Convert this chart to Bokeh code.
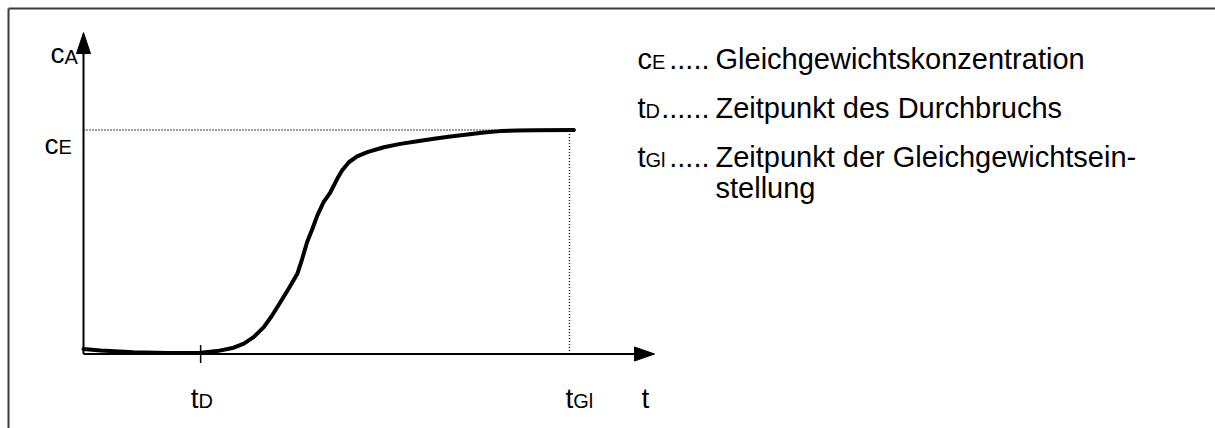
from bokeh.plotting import figure
from bokeh.models import Range1d
from bokeh.core.properties import value
from bokeh.embed import file_html
from bokeh.resources import INLINE

# Breakthrough curve: time (arbitrary units) vs. outlet concentration c_A / c_E
t_vals = [0.0, 0.35, 1.03, 1.73, 2.41, 2.75, 3.09, 3.30, 3.50, 3.71, 3.88,
          4.05, 4.22, 4.40, 4.50, 4.60, 4.71, 4.81, 4.94, 5.08, 5.22, 5.32,
          5.46, 5.63, 5.84, 6.18, 6.52, 6.87, 7.21, 7.55, 7.90, 8.24, 8.58,
          8.92, 9.27, 10.09]
c_vals = [0.022, 0.016, 0.008, 0.005, 0.006, 0.013, 0.028, 0.046, 0.075, 0.120,
          0.172, 0.231, 0.291, 0.358, 0.425, 0.499, 0.559, 0.618, 0.678, 0.722,
          0.782, 0.819, 0.856, 0.882, 0.901, 0.923, 0.938, 0.950, 0.961, 0.971,
          0.980, 0.989, 0.995, 0.998, 0.999, 1.0]

t_D = 2.41      # breakthrough time
t_Gl = 10.0     # time equilibrium is reached
c_E = 1.0       # equilibrium concentration
t_axis_end = 11.75
c_axis_end = 1.435

legend_symbols = ["c", "t", "t"]
legend_subs = ["E", "D", "Gl"]
legend_dots = [".....", "......", "....."]
legend_lines = [["Gleichgewichtskonzentration"],
                ["Zeitpunkt des Durchbruchs"],
                ["Zeitpunkt der Gleichgewichtsein-", "stellung"]]

W, H = 1215, 428
X0, SX = 83.0, 48.6    # pixel of t=0, pixels per time unit
Y0, SY = 353.5, 224.0  # pixel of c=0, pixels per concentration unit

FONT = value("Liberation Sans")


def dx(px):
    return px / SX


def dy(py):
    return py / SY


def px_x(xp):
    return (xp - X0) / SX


def px_y(yp):
    return (Y0 - yp) / SY


p = figure(width=W, height=H, output_backend="svg", toolbar_location=None,
           x_range=Range1d(px_x(0), px_x(W)), y_range=Range1d(px_y(H), px_y(0)),
           x_axis_location=None, y_axis_location=None, min_border=0)
p.grid.visible = False
p.outline_line_color = None
p.background_fill_color = "white"
p.border_fill_color = "white"

# frame lines (top and left)
p.line([px_x(8), px_x(W + 5)], [px_y(8), px_y(8)], line_color="#3a3a3a", line_width=2)
p.line([px_x(8), px_x(8)], [px_y(8), px_y(H + 5)], line_color="#3a3a3a", line_width=2)

# dotted guides for c_E and t_Gl
p.line([0, t_Gl], [c_E, c_E], line_color="black", line_width=1.3, line_dash="1 2")
p.line([t_Gl, t_Gl], [0, c_E], line_color="black", line_width=1.3, line_dash="1 2")

# axes with arrow heads
p.line([0, t_axis_end - dx(18)], [0, 0], line_color="black", line_width=2)
p.line([0, 0], [0, c_axis_end - dy(18)], line_color="black", line_width=2)
p.patch([t_axis_end, t_axis_end - dx(20), t_axis_end - dx(20)],
        [0, dy(7), -dy(7)], fill_color="black", line_color="black")
p.patch([0, -dx(7), dx(7)],
        [c_axis_end, c_axis_end - dy(21), c_axis_end - dy(21)],
        fill_color="black", line_color="black")

# tick at t_D
p.line([t_D, t_D], [dy(9), -dy(9)], line_color="black", line_width=1.5)

# breakthrough curve
p.line(t_vals, c_vals, line_color="black", line_width=4, line_join="round", line_cap="round")

MAIN = 28
SUB = 20
CHAR_W = {"c": 0.5, "t": 0.278}


def sub_label(x, y, main, sub, size=MAIN, sub_size=SUB):
    """Draw a symbol with subscript; x, y are data coordinates of the left baseline."""
    p.text(x=[x], y=[y], text=[main], text_font=FONT, text_font_size=f"{size}px",
           text_baseline="alphabetic", text_align="left", text_color="black")
    if sub:
        p.text(x=[x + dx(CHAR_W[main] * size)], y=[y - dy(3)], text=[sub], text_font=FONT,
               text_font_size=f"{sub_size}px", text_baseline="alphabetic",
               text_align="left", text_color="black")


# axis labels
sub_label(px_x(50), c_axis_end - dy(21), "c", "A")
sub_label(px_x(44), c_E - dy(14), "c", "E")
sub_label(t_D - dx(10), -dy(44), "t", "D")
sub_label(t_Gl - dx(4), -dy(44), "t", "Gl")
sub_label(t_axis_end - dx(13), -dy(44), "t", "")

# legend block
LEG = 29
row_base = [58, 107, 156]
for sym, sub, dots, lines, yb in zip(legend_symbols, legend_subs, legend_dots,
                                     legend_lines, row_base):
    sub_label(px_x(637), px_y(yb), sym, sub, size=LEG, sub_size=SUB)
    p.text(x=[px_x(709)], y=[px_y(yb)], text=[dots], text_font=FONT,
           text_font_size=f"{LEG}px", text_baseline="alphabetic", text_align="right",
           text_color="black")
    for k, ln in enumerate(lines):
        p.text(x=[px_x(715)], y=[px_y(yb + 31 * k)], text=[ln], text_font=FONT,
               text_font_size=f"{LEG}px", text_baseline="alphabetic", text_align="left",
               text_color="black")

open("out.html", "w").write(file_html(p, INLINE))
